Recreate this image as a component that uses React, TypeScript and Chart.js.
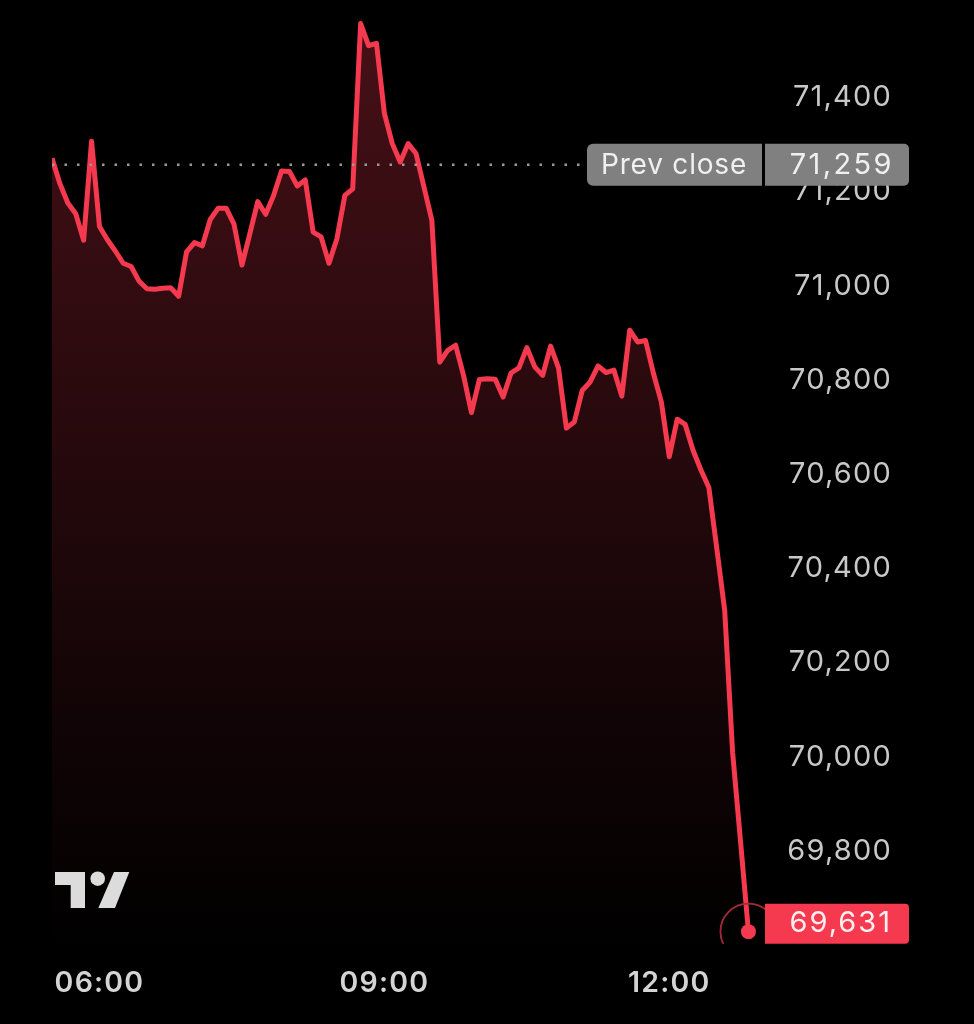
import { useEffect, useRef } from 'react';
import { Chart, registerables } from 'chart.js';
Chart.register(...registerables);

const times = [
    '05:30', '05:35', '05:40', '05:45', '05:50', '05:55', '06:00', '06:05', '06:10', '06:15',
    '06:20', '06:25', '06:30', '06:35', '06:40', '06:45', '06:50', '06:55', '07:00', '07:05',
    '07:10', '07:15', '07:20', '07:25', '07:30', '07:35', '07:40', '07:45', '07:50', '07:55',
    '08:00', '08:05', '08:10', '08:15', '08:20', '08:25', '08:30', '08:35', '08:40', '08:45',
    '08:50', '08:55', '09:00', '09:05', '09:10', '09:15', '09:20', '09:25', '09:30', '09:35',
    '09:40', '09:45', '09:50', '09:55', '10:00', '10:05', '10:10', '10:15', '10:20', '10:25',
    '10:30', '10:35', '10:40', '10:45', '10:50', '10:55', '11:00', '11:05', '11:10', '11:15',
    '11:20', '11:25', '11:30', '11:35', '11:40', '11:45', '11:50', '11:55', '12:00', '12:05',
    '12:10', '12:15', '12:20', '12:25', '12:30', '12:35', '12:40', '12:45', '12:50',
];

const prices = [
    71273, 71219, 71178, 71155, 71099, 71309, 71128, 71100, 71076, 71050,
    71043, 71012, 70996, 70995, 70997, 70998, 70980, 71074, 71094, 71087,
    71143, 71167, 71167, 71133, 71046, 71113, 71181, 71154, 71194, 71246,
    71245, 71214, 71227, 71116, 71106, 71050, 71102, 71194, 71208, 71559,
    71512, 71517, 71368, 71304, 71265, 71304, 71283, 71212, 71141, 70840,
    70865, 70876, 70812, 70733, 70803, 70805, 70804, 70766, 70817, 70828,
    70871, 70830, 70812, 70874, 70828, 70700, 70713, 70780, 70798, 70832,
    70818, 70823, 70768, 70908, 70883, 70886, 70816, 70755, 70639, 70719,
    70708, 70653, 70611, 70574, 70445, 70313, 70012, 69823, 69631,
];

const xTickLabels = ['06:00', '09:00', '12:00'];
const priceTicks = [71400, 71200, 71000, 70800, 70600, 70400, 70200, 70000, 69800];
const prevClose = 71259;

const RED = '#f5394f';
const FONT = 'Inter';

const toMinutes = (t: string) => {
    const [h, m] = t.split(':').map(Number);
    return h * 60 + m;
};

const fmt = (v: number) => v.toLocaleString('en-US');

// rounded rect with separate left / right radius
const badge = (ctx: CanvasRenderingContext2D, x: number, y: number, w: number, h: number, rl: number, rr: number, color: string) => {
    ctx.fillStyle = color;
    ctx.beginPath();
    ctx.roundRect(x, y, w, h, [rl, rr, rr, rl]);
    ctx.fill();
};

const overlayPlugin = {
    id: 'overlay',
    // the digits in the reference run wider than Inter's, so space them out
    beforeUpdate(chart: any) {
        chart.ctx.letterSpacing = '1.2px';
    },
    beforeDraw(chart: any) {
        chart.ctx.letterSpacing = '1.2px';
    },
    afterDraw(chart: any) {
        const { ctx, scales } = chart;
        const lastX = scales.x.getPixelForValue(toMinutes(times[times.length - 1]));
        const lastY = scales.y.getPixelForValue(prices[prices.length - 1]);
        const prevY = scales.y.getPixelForValue(prevClose);

        ctx.save();
        ctx.font = `400 28px ${FONT}`;
        ctx.textBaseline = 'middle';

        // prev close tag
        badge(ctx, 587, prevY - 21, 175, 42, 6, 0, '#808080');
        badge(ctx, 765, prevY - 21, 144, 42, 0, 5, '#808080');
        ctx.fillStyle = '#f0f0f0';
        ctx.textAlign = 'center';
        ctx.letterSpacing = '0.8px';
        ctx.fillText('Prev close', 674, prevY + 1);
        ctx.textAlign = 'right';
        ctx.font = `400 29px ${FONT}`;
        ctx.letterSpacing = '2.4px';
        ctx.fillText(fmt(prevClose), 894, prevY);

        // pulse ring round the last point
        ctx.save();
        ctx.beginPath();
        ctx.rect(700, lastY - 40, 70, 52);
        ctx.clip();
        ctx.strokeStyle = '#a32a39';
        ctx.lineWidth = 1.8;
        ctx.beginPath();
        ctx.arc(lastX, lastY, 28, 0, Math.PI * 2);
        ctx.stroke();
        ctx.restore();

        // last price tag
        badge(ctx, 765, lastY - 28, 144, 40, 0, 4, RED);
        ctx.fillStyle = '#fdeef0';
        ctx.letterSpacing = '2px';
        ctx.fillText(fmt(prices[prices.length - 1]), 892, lastY - 8);

        // logo
        ctx.fillStyle = '#dcdcdc';
        ctx.beginPath();
        ctx.moveTo(55, 872);
        ctx.lineTo(85, 872);
        ctx.lineTo(85, 908);
        ctx.lineTo(70.7, 908);
        ctx.lineTo(70.7, 885);
        ctx.lineTo(55, 885);
        ctx.closePath();
        ctx.fill();
        ctx.beginPath();
        ctx.arc(97.7, 878.7, 7.3, 0, Math.PI * 2);
        ctx.fill();
        ctx.beginPath();
        ctx.moveTo(114, 872);
        ctx.lineTo(129.3, 872);
        ctx.lineTo(115, 908);
        ctx.lineTo(98.3, 908);
        ctx.closePath();
        ctx.fill();
        ctx.restore();
    },
};

const App = () => {
    const chartRef = useRef<HTMLCanvasElement | null>(null);

    useEffect(() => {
        let myChart: any = null;

        if (chartRef.current) {
            myChart = new Chart(chartRef.current, {
                type: 'line',
                data: {
                    datasets: [
                        {
                            data: times.map((t, i) => ({ x: toMinutes(t), y: prices[i] })),
                            borderColor: RED,
                            borderWidth: 5,
                            borderJoinStyle: 'round',
                            tension: 0,
                            fill: 'start',
                            backgroundColor: (c: any) => {
                                const area = c.chart.chartArea;
                                if (!area) return 'transparent';
                                const g = c.chart.ctx.createLinearGradient(0, area.top, 0, area.bottom);
                                g.addColorStop(0, 'rgba(245, 57, 79, 0.29)');
                                g.addColorStop(1, 'rgba(245, 57, 79, 0)');
                                return g;
                            },
                            pointRadius: (c: any) => (c.dataIndex === prices.length - 1 ? 7.5 : 0),
                            pointBackgroundColor: RED,
                            pointBorderWidth: 0,
                            order: 2,
                        },
                        {
                            data: [
                                { x: toMinutes(times[0]), y: prevClose },
                                { x: 664, y: prevClose },
                            ],
                            borderColor: '#9a9a9a',
                            borderWidth: 2.5,
                            borderDash: [2.5, 10],
                            pointRadius: 0,
                            fill: false,
                            order: 1,
                        },
                    ],
                },
                options: {
                    animation: false,
                    responsive: false,
                    parsing: false,
                    layout: { padding: { left: 52, right: 82, top: 0, bottom: 0 } },
                    plugins: { legend: { display: false }, tooltip: { enabled: false } },
                    scales: {
                        x: {
                            type: 'linear',
                            min: 330,
                            max: 795,
                            grid: { display: false },
                            border: { display: false },
                            afterBuildTicks: (axis: any) => {
                                axis.ticks = xTickLabels.map((t) => ({ value: toMinutes(t) }));
                            },
                            afterFit: (axis: any) => {
                                axis.height = 74;
                            },
                            ticks: {
                                autoSkip: false,
                                maxRotation: 0,
                                padding: 8,
                                color: '#d4d4d4',
                                font: { family: FONT, size: 28.5, weight: 600 },
                                callback: (v: any) => xTickLabels.find((t) => toMinutes(t) === v) ?? '',
                            },
                        },
                        y: {
                            position: 'right',
                            min: 69592,
                            max: 71593,
                            grid: { display: false },
                            border: { display: false },
                            afterBuildTicks: (axis: any) => {
                                axis.ticks = priceTicks.map((v) => ({ value: v }));
                            },
                            afterFit: (axis: any) => {
                                axis.width = 104;
                            },
                            ticks: {
                                padding: 5,
                                crossAlign: 'far',
                                color: '#c8c8c8',
                                // two-line label with a 2px line height lifts the text 1px off the price
                                font: { family: FONT, size: 29, weight: 400, lineHeight: '2px' },
                                callback: (v: any) => [fmt(v), ' '],
                            },
                        },
                    },
                },
                plugins: [overlayPlugin],
            } as any);
        }

        return () => {
            if (myChart) {
                myChart.destroy();
            }
        };
    }, []);

    return (
        <div style={{ position: 'fixed', left: 0, top: 0, width: 974, height: 1024, background: '#000' }}>
            <canvas ref={chartRef} width={974} height={1024} style={{ display: 'block', width: 974, height: 1024 }}></canvas>
        </div>
    );
};

export default App;
